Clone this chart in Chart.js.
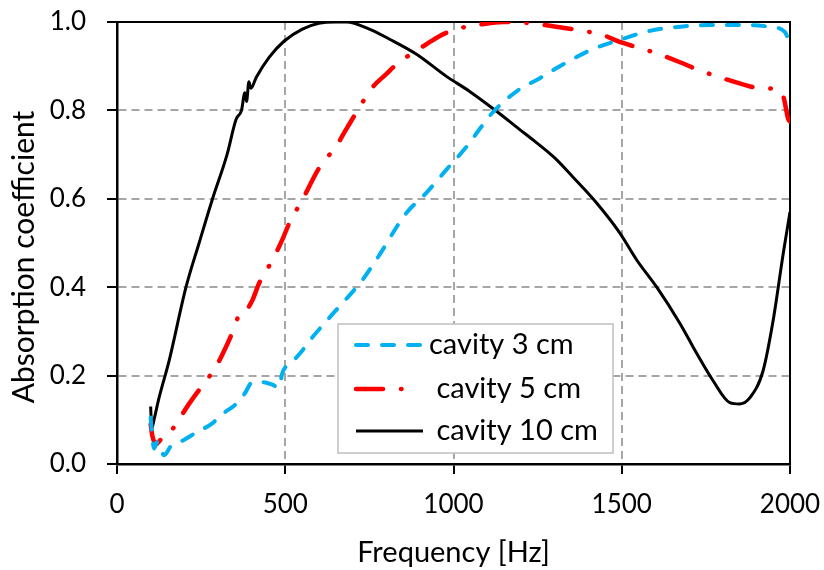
<!DOCTYPE html>
<html>
<head>
<meta charset="utf-8">
<title>Absorption coefficient</title>
<script src="https://cdn.jsdelivr.net/npm/chart.js@4.4.1/dist/chart.umd.min.js"></script>
<style>
  html, body { margin: 0; padding: 0; background: #fff; }
  #wrap { width: 824px; height: 570px; }
</style>
</head>
<body>
<div id="wrap"><canvas id="absChart" width="824" height="570"></canvas></div>
<script>
// values (frequency in Hz, absorption coefficient)
const freq3 = [100, 105, 110, 120, 140, 160, 175, 200, 244, 280, 313, 354, 380, 402, 432, 460, 482, 491, 520, 551,
  580, 630, 670, 729, 789, 830, 860, 920, 979, 1039, 1080, 1116, 1196, 1250, 1300, 1400, 1435, 1500, 1583, 1682,
  1762, 1881, 1940, 1985, 2000];
const abs3 = [0.105, 0.06, 0.035, 0.05, 0.02, 0.04, 0.045, 0.055, 0.075, 0.09, 0.113, 0.136, 0.16, 0.185, 0.185, 0.18, 0.173, 0.205, 0.23, 0.257,
  0.286, 0.33, 0.364, 0.416, 0.484, 0.535, 0.568, 0.614, 0.666, 0.718, 0.76, 0.795, 0.848, 0.87, 0.893, 0.934, 0.945, 0.961, 0.98, 0.99,
  0.993, 0.993, 0.989, 0.977, 0.95];

const freq5 = [100, 105, 116, 130, 146, 175, 214, 253, 294, 333, 372, 385, 402, 423, 461, 491, 512, 551, 601, 652,
  681, 711, 759, 800, 839, 880, 920, 958, 1009, 1086, 1146, 1217, 1300, 1400, 1435, 1494, 1545, 1592, 1673, 1723,
  1783, 1860, 1911, 1961, 1980, 1995, 2000];
const abs5 = [0.09, 0.064, 0.045, 0.055, 0.06, 0.09, 0.136, 0.177, 0.22, 0.28, 0.347, 0.35, 0.37, 0.41, 0.46, 0.507, 0.545, 0.598, 0.67, 0.72,
  0.757, 0.795, 0.852, 0.882, 0.91, 0.93, 0.95, 0.968, 0.984, 0.995, 1.0, 0.998, 0.99, 0.978, 0.973, 0.955, 0.943, 0.932, 0.909, 0.893,
  0.877, 0.859, 0.85, 0.848, 0.832, 0.78, 0.775];

const freq10 = [100, 103, 110, 125, 155, 205, 244, 283, 327, 354, 370, 380, 385, 392, 398, 414, 452, 497, 551, 600,
  650, 682, 750, 810, 890, 979, 1048, 1128, 1196, 1240, 1300, 1354, 1426, 1494, 1545, 1604, 1673, 1723, 1771, 1821,
  1851, 1881, 1920, 1950, 1980, 2000];
const abs10 = [0.13, 0.08, 0.1, 0.15, 0.234, 0.4, 0.5, 0.598, 0.7, 0.78, 0.8, 0.84, 0.82, 0.865, 0.85, 0.875, 0.92, 0.957, 0.984, 0.997,
  1.0, 1.0, 0.984, 0.961, 0.927, 0.877, 0.843, 0.798, 0.757, 0.731, 0.693, 0.65, 0.59, 0.523, 0.461, 0.4, 0.318, 0.25, 0.189, 0.139,
  0.136, 0.15, 0.211, 0.325, 0.477, 0.57];

const seriesLabels = ["cavity 3 cm", " cavity 5 cm", " cavity 10 cm"];
const xTicks = [0, 500, 1000, 1500, 2000];
const yTicks = [0, 0.2, 0.4, 0.6, 0.8, 1.0];
const yTitle = "Absorption coefficient";

function toPoints(xs, ys) {
  return xs.map((x, i) => ({ x: x, y: ys[i] }));
}

// solid black frame on top and right of the plot
const plotFrame = {
  id: "plotFrame",
  beforeDatasetsDraw(chart) {
    const a = chart.chartArea;
    const ctx = chart.ctx;
    ctx.save();
    ctx.strokeStyle = "#000";
    ctx.lineWidth = 2;
    ctx.beginPath();
    ctx.moveTo(a.left, a.top);
    ctx.lineTo(a.right, a.top);
    ctx.lineTo(a.right, a.bottom);
    ctx.stroke();
    ctx.restore();
  }
};

// vertical axis title, sits a bit lower than the plot centre like the original
const yAxisTitle = {
  id: "yAxisTitle",
  afterDraw(chart) {
    const ctx = chart.ctx;
    ctx.save();
    ctx.translate(24, 257);
    ctx.rotate(-Math.PI / 2);
    ctx.fillStyle = "#000";
    ctx.font = "30px Lato";
    ctx.textAlign = "center";
    ctx.textBaseline = "middle";
    ctx.fillText(yTitle, 0, 0);
    ctx.restore();
  }
};

// legend box inside the plot
const boxLegend = {
  id: "boxLegend",
  afterDatasetsDraw(chart) {
    const ctx = chart.ctx;
    const left = 338, top = 324, w = 275, h = 129;
    const rowY = [345, 389, 431];
    ctx.save();
    ctx.fillStyle = "#fff";
    ctx.fillRect(left, top, w, h);
    ctx.strokeStyle = "#bfbfbf";
    ctx.lineWidth = 1.5;
    ctx.strokeRect(left, top, w, h);
    chart.data.datasets.forEach((ds, i) => {
      const y = rowY[i];
      const dash = ds.borderDash || [];
      const end = dash.length === 4 ? 356 + dash[0] + dash[1] + dash[2] : 423;
      ctx.beginPath();
      ctx.strokeStyle = ds.borderColor;
      ctx.lineWidth = ds.borderWidth;
      ctx.lineCap = ds.borderCapStyle || "butt";
      ctx.setLineDash(dash);
      ctx.moveTo(356, y);
      ctx.lineTo(end, y);
      ctx.stroke();
      ctx.setLineDash([]);
      ctx.fillStyle = "#000";
      ctx.font = "29px Lato";
      ctx.textBaseline = "middle";
      ctx.textAlign = "left";
      ctx.fillText(ds.label, 429, y);
    });
    ctx.restore();
  }
};

function drawChart() {
  Chart.defaults.font.family = "Lato";
  Chart.defaults.color = "#000";

  new Chart(document.getElementById("absChart"), {
    type: "line",
    data: {
      datasets: [{
        label: seriesLabels[0],
        data: toPoints(freq3, abs3),
        borderColor: "#00b0f0",
        borderWidth: 4,
        borderDash: [12, 14],
        borderCapStyle: "round",
        pointRadius: 0,
        cubicInterpolationMode: "monotone"
      }, {
        label: seriesLabels[1],
        data: toPoints(freq5, abs5),
        borderColor: "#ff0000",
        borderWidth: 4.5,
        borderDash: [27, 18, 0.5, 18],
        borderCapStyle: "round",
        pointRadius: 0,
        cubicInterpolationMode: "monotone"
      }, {
        label: seriesLabels[2],
        data: toPoints(freq10, abs10),
        borderColor: "#000000",
        borderWidth: 3,
        pointRadius: 0,
        cubicInterpolationMode: "monotone"
      }]
    },
    options: {
      responsive: false,
      animation: false,
      events: [],
      layout: { padding: { top: 22, right: 34, left: 0, bottom: 0 } },
      plugins: {
        legend: { display: false },
        tooltip: { enabled: false }
      },
      scales: {
        x: {
          type: "linear",
          min: 0,
          max: 2000,
          afterBuildTicks: s => { s.ticks = xTicks.map(v => ({ value: v })); },
          afterFit: s => { s.height = 106; s.paddingLeft = 0; s.paddingRight = 0; },
          ticks: { font: { size: 26 }, padding: 15, maxRotation: 0, callback: v => String(v) },
          grid: { color: "#a6a6a6", lineWidth: 2, tickColor: "#000", tickLength: 10, tickWidth: 2 },
          border: { color: "#000", width: 2.5, dash: [8, 5] },
          title: { display: true, text: "Frequency [Hz]", font: { size: 29 }, padding: { top: 0, bottom: 0 } }
        },
        y: {
          min: 0,
          max: 1,
          afterBuildTicks: s => { s.ticks = yTicks.map(v => ({ value: v })); },
          afterFit: s => { s.width = 117; s.paddingTop = 0; s.paddingBottom = 0; },
          ticks: { font: { size: 26 }, padding: 21, callback: v => Number(v).toFixed(1) },
          grid: { color: "#a6a6a6", lineWidth: 2, tickColor: "#000", tickLength: 10, tickWidth: 2 },
          border: { color: "#000", width: 2.5, dash: [8, 5] },
          title: { display: false }
        }
      }
    },
    plugins: [plotFrame, boxLegend, yAxisTitle]
  });
}

document.fonts.load("30px Lato").then(drawChart, drawChart);
</script>
</body>
</html>
